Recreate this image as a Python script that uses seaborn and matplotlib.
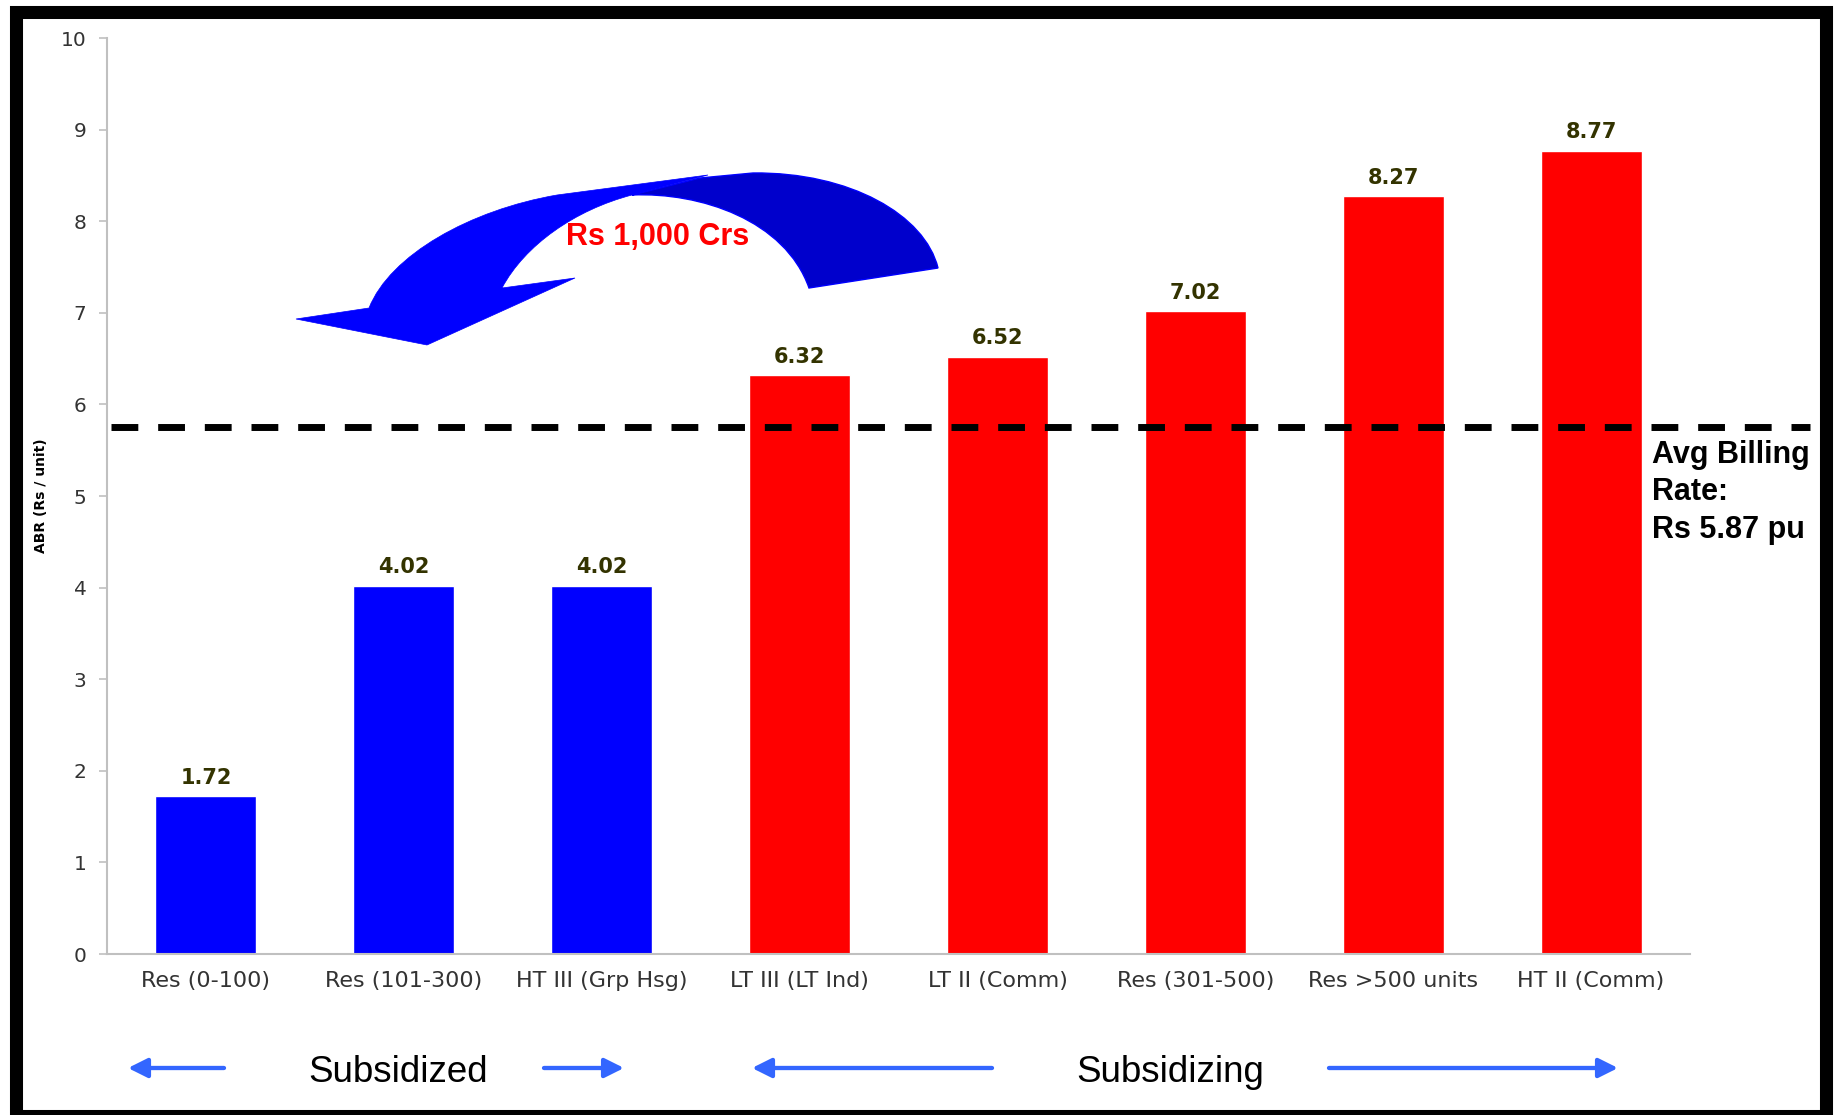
import numpy as np
import pandas as pd
import matplotlib
matplotlib.use("Agg")
import matplotlib.pyplot as plt
import seaborn as sns
from matplotlib.patches import Rectangle, PathPatch, FancyArrowPatch
from matplotlib.path import Path
from matplotlib.transforms import Affine2D

# data
categories = ['Res (0-100)', 'Res (101-300)', 'HT III (Grp Hsg)', 'LT III (LT Ind)',
              'LT II (Comm)', 'Res (301-500)', 'Res >500 units', 'HT II (Comm)']
abr = [1.72, 4.02, 4.02, 6.32, 6.52, 7.02, 8.27, 8.77]
group = ['Subsidized'] * 3 + ['Subsidizing'] * 5
group_colors = {'Subsidized': '#0000FF', 'Subsidizing': '#FF0000'}
avg_line_level = 5.75
avg_label_lines = ['Avg Billing', 'Rate:', 'Rs 5.87 pu']
transfer_label = 'Rs 1,000 Crs'

df = pd.DataFrame({'Category': categories, 'ABR': abr, 'Group': group})

W, H = 1837, 1115
sns.set_style("white")
fig = plt.figure(figsize=(W / 100, H / 100), dpi=100)
ax = fig.add_axes([107 / W, 1 - 954 / H, (1690 - 107) / W, (954 - 38) / H])
px = Affine2D().scale(1 / W, -1 / H).translate(0, 1) + fig.transFigure

sns.barplot(data=df, x='Category', y='ABR', hue='Group', palette=group_colors,
            dodge=False, width=0.51, legend=False, saturation=1, ax=ax, zorder=2)

for c in ax.containers:
    ax.bar_label(c, fmt='%.2f', padding=6, fontsize=15, fontweight='bold', color='#333300')

ax.set_xlim(-0.5, len(categories) - 0.5)
ax.set_ylim(0, 10)
ax.set_yticks(range(0, 11))
ax.set_xticks(np.arange(-0.5, len(categories), 1), minor=True)
ax.set_xlabel('')
ax.set_ylabel('ABR (Rs / unit)', fontsize=10, fontweight='bold', color='black')
ax.yaxis.set_label_coords(-0.0373, 0.5)

for s in ['top', 'right']:
    ax.spines[s].set_visible(False)
for s in ['left', 'bottom']:
    ax.spines[s].set_color('#C0C0C0')
    ax.spines[s].set_linewidth(1.5)
ax.tick_params(axis='x', which='major', length=0, pad=12, labelsize=16, labelcolor='#333333')
ax.tick_params(axis='x', which='minor', length=6.5, width=1.2, color='#C0C0C0', direction='out')
ax.tick_params(axis='y', length=5.8, width=1.2, color='#C0C0C0', pad=9, labelsize=14.5,
               labelcolor='#333333', left=True)

# average billing rate line
ax.plot([-0.48, 8.105], [avg_line_level, avg_line_level], color='black', lw=5,
        linestyle=(0, (3.86, 2.86)), clip_on=False, zorder=5)
for i, line in enumerate(avg_label_lines):
    fig.text(1652, 463 + i * 37.5, line, transform=px, ha='left', va='baseline',
             fontsize=22, fontweight='bold', family='Liberation Sans', color='black')

# curved transfer arrow
dark = Path([(809, 288), (938, 268), (925, 215), (850, 172), (753, 173), (700, 178), (632, 195),
             (700, 192), (785, 220), (809, 288), (809, 288)],
            [Path.MOVETO, Path.LINETO, Path.CURVE4, Path.CURVE4, Path.CURVE4, Path.LINETO,
             Path.LINETO, Path.CURVE4, Path.CURVE4, Path.CURVE4, Path.CLOSEPOLY])
bright = Path([(632, 195), (708, 175), (557, 195), (470, 210), (390, 255), (369, 308),
               (296, 319), (427, 345), (575, 278), (502, 288), (525, 245), (575, 210),
               (632, 195), (632, 195)],
              [Path.MOVETO, Path.LINETO, Path.LINETO, Path.CURVE4, Path.CURVE4, Path.CURVE4,
               Path.LINETO, Path.LINETO, Path.LINETO, Path.LINETO, Path.CURVE4, Path.CURVE4,
               Path.CURVE4, Path.CLOSEPOLY])
fig.patches.append(PathPatch(dark, transform=px, facecolor='#0000CC', edgecolor='#0000FF', lw=1))
fig.patches.append(PathPatch(bright, transform=px, facecolor='#0000FF', edgecolor='#0000FF', lw=0.5))
fig.text(658, 245, transfer_label, transform=px, ha='center', va='baseline', fontsize=22,
         fontweight='bold', family='Liberation Sans', color='#FF0000', zorder=10)

# group arrows at the bottom
for tail, tip in [(224, 128), (544, 624), (992, 752), (1329, 1618)]:
    fig.patches.append(FancyArrowPatch((tail, 1068), (tip, 1068), transform=px,
                                       arrowstyle='-|>,head_length=0.58,head_width=0.29',
                                       mutation_scale=20, lw=3.1, color='#3366FF',
                                       shrinkA=0, shrinkB=0))
for x, name in [(398, 'Subsidized'), (1170, 'Subsidizing')]:
    fig.text(x, 1082, name, transform=px, ha='center', va='baseline', fontsize=26.5,
             family='Liberation Sans', color='black')

# outer frame
fig.patches.append(Rectangle((15.5, 11.5), 1810, 1104, transform=px, fill=False,
                             edgecolor='black', lw=9.4))

fig.savefig('out.png', dpi=100)
